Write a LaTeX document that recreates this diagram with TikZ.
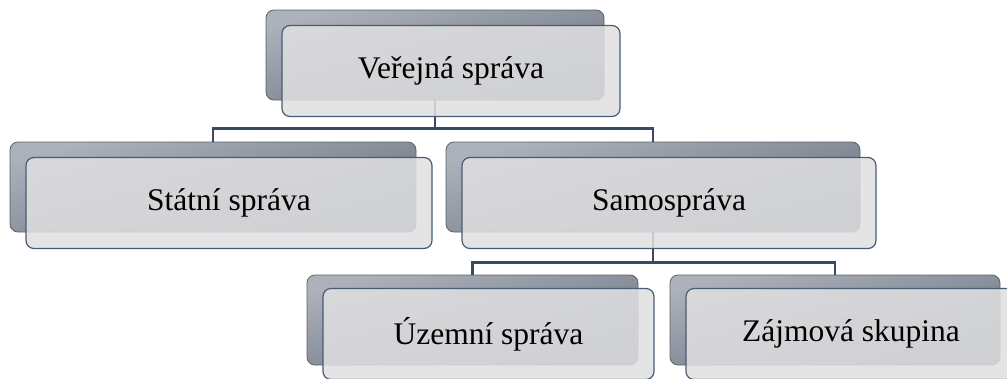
\documentclass[tikz,border=0pt]{standalone}
\usepackage{fontspec}
\setmainfont{Liberation Serif}
\usetikzlibrary{calc}
\definecolor{backtop}{RGB}{172,177,186}
\definecolor{backbot}{RGB}{106,114,127}
\definecolor{backline}{RGB}{90,96,106}
\definecolor{frontfill}{RGB}{224,224,225}
\definecolor{frontline}{RGB}{72,92,118}
\definecolor{connline}{RGB}{58,74,96}
\tikzset{
  backbox/.style={draw=backline, line width=0.8pt, rounded corners=8pt, top color=backtop, bottom color=backbot, shading angle=15, minimum height=90pt, inner sep=0pt},
  frontbox/.style={draw=frontline, line width=1.2pt, rounded corners=8pt, fill=frontfill, fill opacity=0.86, text opacity=1, minimum height=91pt, inner sep=0pt, font=\fontsize{31.5}{36}\selectfont},
  conn/.style={draw=connline, line width=2.6pt}
}
\begin{document}
\begin{tikzpicture}[x=1pt,y=-1pt]
\useasboundingbox (0,0) rectangle (1007,378);
% back boxes
\node[backbox, minimum width=338pt] (b1) at (435,55) {};
\node[backbox, minimum width=406pt] (b2) at (213,187) {};
\node[backbox, minimum width=414pt] (b3) at (653,187) {};
\node[backbox, minimum width=331pt] (b4) at (472.5,320) {};
\node[backbox, minimum width=330pt] (b5) at (835,320) {};
% connectors
\draw[conn] (b1.south) |- ($(b2.north)+(0,-13)$) -- (b2.north);
\draw[conn] (b1.south) |- ($(b3.north)+(0,-13)$) -- (b3.north);
\draw[conn] (b3.south) |- ($(b4.north)+(0,-12)$) -- (b4.north);
\draw[conn] (b3.south) |- ($(b5.north)+(0,-12)$) -- (b5.north);
% front boxes
\node[frontbox, minimum width=338pt] (f1) at (451,71) {Veřejná správa};
\node[frontbox, minimum width=406pt] (f2) at (229,203) {Státní správa};
\node[frontbox, minimum width=414pt] (f3) at (669,203) {Samospráva};
\node[frontbox, minimum width=331pt] (f4) at (488.5,334) {Územní správa};
\node[frontbox, minimum width=330pt] (f5) at (851,334) {Zájmová skupina};
\end{tikzpicture}
\end{document}
